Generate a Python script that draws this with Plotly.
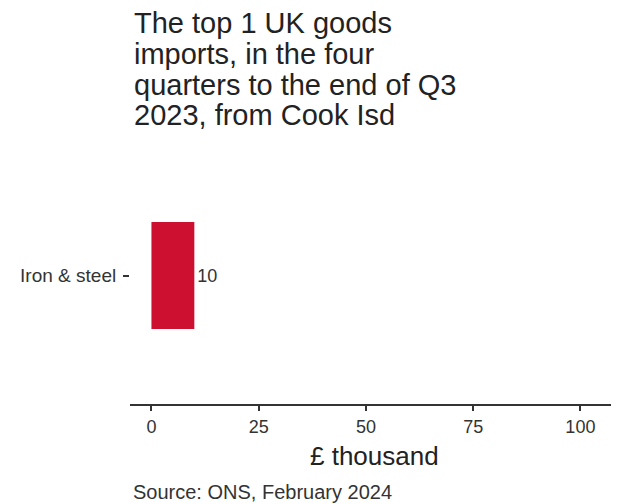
import plotly.graph_objects as go

categories = ["Iron & steel"]
values = [10]
x_ticks = [0, 25, 50, 75, 100]
title_lines = ["The top 1 UK goods", "imports, in the four", "quarters to the end of Q3", "2023, from Cook Isd"]
x_title = "£ thousand"
source_text = "Source: ONS, February 2024"

FONT = "Liberation Sans, Arial, sans-serif"
TXT = "#333333"

# page body has an 8px margin, so the figure is drawn 8px smaller
W, H = 611, 496
ML, MT, MB = 122, 139, 100
PW, PH = W - ML, H - MT - MB

fig = go.Figure()
fig.add_trace(go.Bar(
    x=values, y=categories, orientation="h",
    marker=dict(color="#CE1030", line=dict(width=0)),
    width=0.9,
    text=[str(v) for v in values], textposition="outside",
    textfont=dict(family=FONT, size=18, color=TXT),
    cliponaxis=False,
))

annotations = []
title_centres = [15, 46, 77, 107]
for line, yc in zip(title_lines, title_centres):
    annotations.append(dict(
        text=line, xref="paper", yref="paper", x=(125 - ML) / PW, y=1 + (MT - yc) / PH,
        xanchor="left", yanchor="middle", showarrow=False, align="left", borderpad=0,
        font=dict(family=FONT, size=29, color="#222222")))
annotations.append(dict(
    text=x_title, xref="paper", yref="paper", x=0.5, y=-(448 - (H - MB)) / PH,
    xanchor="center", yanchor="middle", showarrow=False, borderpad=0,
    font=dict(family=FONT, size=26, color="#222222")))
annotations.append(dict(
    text=source_text, xref="paper", yref="paper", x=(124 - ML) / PW, y=-(484 - (H - MB)) / PH,
    xanchor="left", yanchor="middle", showarrow=False, align="left", borderpad=0,
    font=dict(family=FONT, size=20, color=TXT)))

fig.update_layout(
    width=W, height=H,
    margin=dict(l=ML, r=0, t=MT, b=MB, pad=0),
    plot_bgcolor="white", paper_bgcolor="white",
    showlegend=False,
    font=dict(family=FONT, color=TXT),
    xaxis=dict(
        range=[-5, 109], tickvals=x_ticks, ticktext=[str(t) for t in x_ticks],
        showgrid=False, zeroline=False,
        showline=True, linecolor="#333333", linewidth=2,
        ticks="outside", ticklen=5, tickcolor="#333333", tickwidth=1.5,
        tickfont=dict(family=FONT, size=18, color=TXT),
        ticklabelstandoff=0,
        fixedrange=True,
    ),
    yaxis=dict(
        range=[-1.08, 1.08], showgrid=False, zeroline=False, showline=False,
        ticks="outside", ticklen=6, tickcolor="#333333", tickwidth=1.5,
        tickfont=dict(family=FONT, size=19, color=TXT),
        ticklabelstandoff=3,
        fixedrange=True,
    ),
    annotations=annotations,
)

fig.write_html("out.html")
